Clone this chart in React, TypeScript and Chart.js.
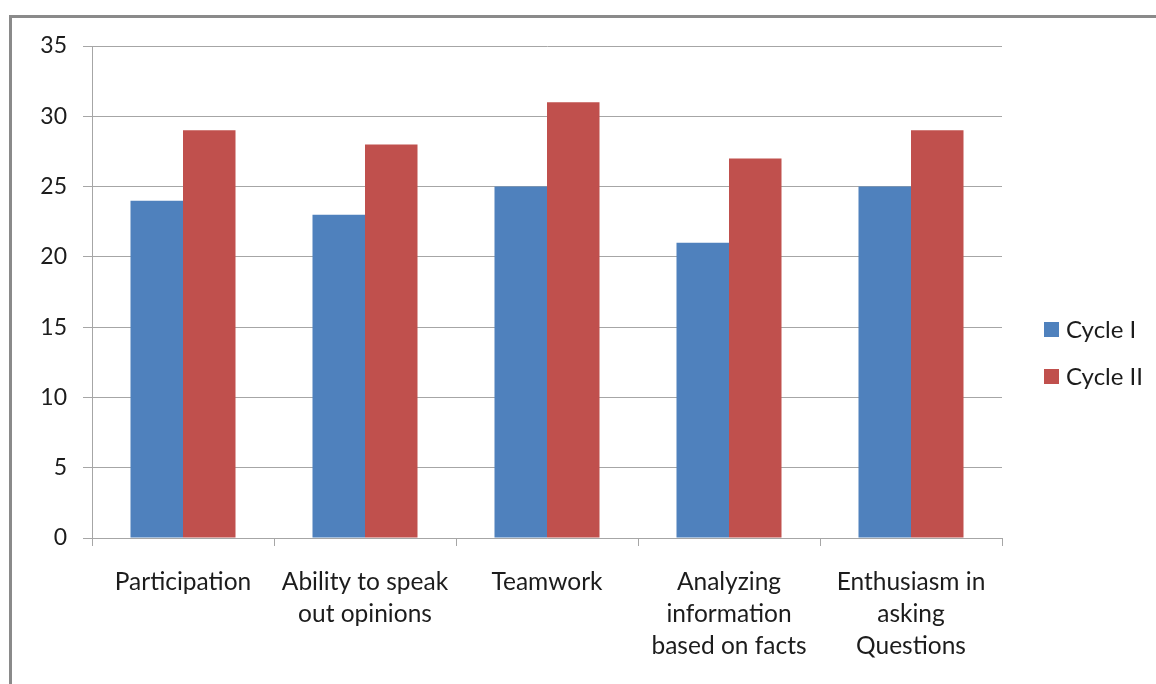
import React, { useEffect, useRef } from "react";
import { Chart, registerables } from "chart.js";

Chart.register(...registerables);

const categories: string[][] = [
  ["Participation"],
  ["Ability to speak", "out opinions"],
  ["Teamwork"],
  ["Analyzing", "information", "based on facts"],
  ["Enthusiasm in", "asking", "Questions"],
];
const seriesNames = ["Cycle I", "Cycle II"];
const cycleI = [24, 23, 25, 21, 25];
const cycleII = [29, 28, 31, 27, 29];
const yMin = 0;
const yMax = 35;
const yStep = 5;

const BLUE = "#4F81BD";
const RED = "#C0504D";
const GRID = "#a6a6a6";
const TEXT = "#1c1c1c";
const FONT = "Lato, 'Open Sans', sans-serif";

const legendPlugin = {
  id: "sideLegend",
  afterDraw(chart: any) {
    const ctx = chart.ctx;
    ctx.save();
    ctx.font = `24px ${FONT}`;
    ctx.textBaseline = "middle";
    ctx.textAlign = "left";
    chart.data.datasets.forEach((ds: any, i: number) => {
      const cy = 329 + i * 47;
      ctx.fillStyle = ds.backgroundColor;
      ctx.fillRect(1044, cy - 7, 15, 15);
      ctx.fillStyle = TEXT;
      ctx.fillText(ds.label, 1066, cy + 1);
    });
    ctx.restore();
  },
};

export default function App() {
  const ref = useRef<HTMLCanvasElement>(null);
  useEffect(() => {
    if (!ref.current) return;
    const chart = new Chart(ref.current, {
      type: "bar",
      data: {
        labels: categories,
        datasets: [
          { label: seriesNames[0], data: cycleI, backgroundColor: BLUE },
          { label: seriesNames[1], data: cycleII, backgroundColor: RED },
        ],
      },
      options: {
        animation: false,
        responsive: false,
        maintainAspectRatio: false,
        layout: { padding: { top: 46, right: 154, bottom: 24, left: 0 } },
        datasets: { bar: { categoryPercentage: 0.577, barPercentage: 1 } },
        plugins: { legend: { display: false }, tooltip: { enabled: false } },
        scales: {
          x: {
            offset: true,
            grid: { display: true, drawOnChartArea: false, color: GRID, tickLength: 8, offset: true },
            border: { display: true, color: GRID },
            ticks: {
              color: TEXT,
              font: { family: FONT, size: 24.5, lineHeight: 1.306 },
              padding: 20,
              maxRotation: 0,
              autoSkip: false,
            },
            afterFit(scale: any) {
              scale.height = 122;
            },
          },
          y: {
            min: yMin,
            max: yMax,
            grid: { color: GRID, tickLength: 9 },
            border: { display: true, color: GRID },
            ticks: {
              stepSize: yStep,
              color: TEXT,
              font: { family: FONT, size: 23 },
              padding: 16,
            },
            afterFit(scale: any) {
              scale.width = 92;
            },
          },
        },
      },
      plugins: [legendPlugin],
    });
    return () => chart.destroy();
  }, []);

  return (
    <div
      style={{
        position: "absolute",
        left: 0,
        top: 0,
        width: 1156,
        height: 684,
        overflow: "hidden",
        background: "#fff",
      }}
    >
      <div
        style={{
          position: "absolute",
          left: 9,
          top: 15,
          width: 1300,
          height: 800,
          border: "3px solid #8a8a8a",
          boxSizing: "border-box",
        }}
      />
      <canvas
        ref={ref}
        width={1156}
        height={684}
        style={{ position: "absolute", left: 0, top: 0, width: 1156, height: 684 }}
      />
    </div>
  );
}
